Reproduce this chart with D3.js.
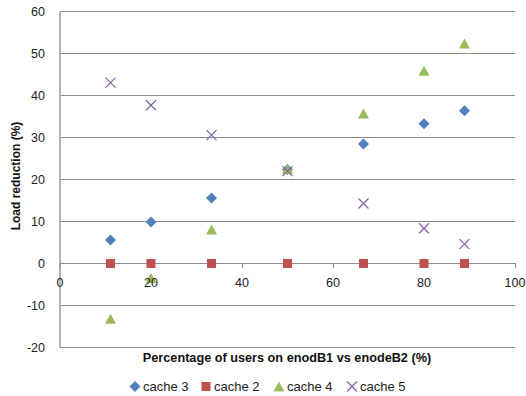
<!DOCTYPE html>
<html>
<head>
<meta charset="utf-8">
<script src="https://cdn.jsdelivr.net/npm/d3@7"></script>
<style>
  html, body { margin: 0; padding: 0; background: #fff; }
  svg { display: block; font-family: "Liberation Sans", Arial, sans-serif; }
</style>
</head>
<body>
<svg id="chart" width="526" height="396"></svg>
<script>
// Share of users on enodB1 (%)
const xValues = [11.1, 20, 33.3, 50, 66.7, 80, 88.9];
// Load reduction (%) for each cache configuration
const cache3 = [5.6, 9.9, 15.6, 22.4, 28.5, 33.3, 36.4];
const cache2 = [0, 0, 0, 0, 0, 0, 0];
const cache4 = [-13.3, -3.6, 8.0, 22.4, 35.6, 45.8, 52.3];
const cache5 = [43.1, 37.7, 30.6, 22.0, 14.3, 8.4, 4.6];
const seriesNames = ["cache 3", "cache 2", "cache 4", "cache 5"];
const xTicks = [0, 20, 40, 60, 80, 100];
const yTicks = [-20, -10, 0, 10, 20, 30, 40, 50, 60];

const colors = ["#4F81BD", "#C0504D", "#9BBB59", "#8064A2"];
const shapes = ["diamond", "square", "triangle", "cross"];

const svg = d3.select("#chart");
const x = d3.scaleLinear().domain([0, 100]).range([60, 515]);
const y = d3.scaleLinear().domain([-20, 60]).range([347.4, 11.7]);

// horizontal gridlines
svg.append("g")
  .selectAll("line")
  .data(yTicks.filter(d => d !== 0))
  .join("line")
  .attr("x1", x(0)).attr("x2", x(100))
  .attr("y1", d => y(d)).attr("y2", d => y(d))
  .attr("stroke", "#8c8c8c").attr("stroke-width", 1)
  .attr("shape-rendering", "crispEdges");

// vertical axis
svg.append("line")
  .attr("x1", x(0)).attr("x2", x(0))
  .attr("y1", y(60)).attr("y2", y(-20))
  .attr("stroke", "#b4b4b4").attr("stroke-width", 2);

// horizontal axis through zero, ticks pointing down
const xAxis = d3.axisBottom(x).tickValues(xTicks).tickSize(5).tickFormat("");
const xg = svg.append("g")
  .attr("transform", `translate(0,${y(0)})`)
  .call(xAxis);
xg.select(".domain").attr("stroke", "#8c8c8c").attr("shape-rendering", "crispEdges");
xg.selectAll(".tick line").attr("stroke", "#8c8c8c").attr("shape-rendering", "crispEdges");

// y tick labels
svg.append("g")
  .selectAll("text")
  .data(yTicks)
  .join("text")
  .attr("x", 45).attr("y", d => y(d))
  .attr("dy", "0.35em")
  .attr("text-anchor", "end")
  .attr("font-size", 12.5)
  .attr("fill", "#222")
  .text(d => d);

// marker symbol generators
function drawMarker(sel, shape, color) {
  if (shape === "diamond") {
    sel.append("path").attr("d", "M0,-5.5L5.5,0L0,5.5L-5.5,0Z").attr("fill", color);
  } else if (shape === "square") {
    sel.append("rect").attr("x", -4.5).attr("y", -4.5).attr("width", 9).attr("height", 9).attr("fill", color);
  } else if (shape === "triangle") {
    sel.append("path").attr("d", "M0,-5.5L5.5,4.5L-5.5,4.5Z").attr("fill", color);
  } else {
    sel.append("path").attr("d", "M-5,-5L5,5M-5,5L5,-5")
      .attr("stroke", color).attr("stroke-width", 1.2).attr("fill", "none");
  }
}

const seriesData = [cache3, cache2, cache4, cache5];
seriesData.forEach((vals, i) => {
  const g = svg.append("g");
  vals.forEach((v, j) => {
    const m = g.append("g").attr("transform", `translate(${x(xValues[j])},${y(v)})`);
    drawMarker(m, shapes[i], colors[i]);
  });
});

// x tick labels, drawn over the markers
svg.append("g")
  .selectAll("text")
  .data(xTicks)
  .join("text")
  .attr("x", d => x(d)).attr("y", 283)
  .attr("dy", "0.35em")
  .attr("text-anchor", "middle")
  .attr("font-size", 12.5)
  .attr("fill", "#222")
  .text(d => d);

// axis titles
svg.append("text")
  .attr("x", 287).attr("y", 361.5)
  .attr("text-anchor", "middle")
  .attr("font-size", 12.7).attr("font-weight", "bold")
  .attr("fill", "#111")
  .text("Percentage of users on enodB1 vs enodeB2 (%)");

svg.append("text")
  .attr("transform", "translate(19.5,176) rotate(-90)")
  .attr("text-anchor", "middle")
  .attr("font-size", 12).attr("font-weight", "bold")
  .attr("fill", "#111")
  .text("Load reduction (%)");

// legend
const legendX = [135, 206, 279, 352];
seriesNames.forEach((name, i) => {
  const g = svg.append("g").attr("transform", `translate(${legendX[i]},386.5)`);
  const m = g.append("g").attr("transform", shapes[i] === "triangle" ? "translate(0,0.5)" : null);
  drawMarker(m, shapes[i], colors[i]);
  g.append("text")
    .attr("x", 8).attr("y", 0).attr("dy", "0.35em")
    .attr("font-size", 13)
    .attr("fill", "#222")
    .text(name);
});
</script>
</body>
</html>
